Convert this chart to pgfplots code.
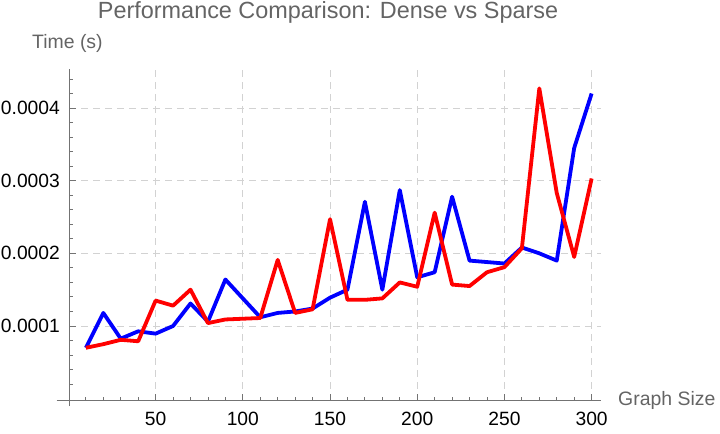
\documentclass[border=0pt]{standalone}
\usepackage{fontspec}
\setmainfont{Liberation Sans}
\usepackage{pgfplots}
\usepackage{pgfplotstable}
\pgfplotsset{compat=1.18}

\definecolor{axisgray}{RGB}{115,115,115}
\definecolor{labelgray}{RGB}{100,100,100}
\definecolor{gridgray}{RGB}{210,210,210}

% graph size, dense time, sparse time
\pgfplotstableread{
n    dense      sparse
10   0.0000700  0.0000700
20   0.0001180  0.0000750
30   0.0000826  0.0000810
40   0.0000927  0.0000790
50   0.0000895  0.0001350
60   0.0001000  0.0001280
70   0.0001310  0.0001500
80   0.0001060  0.0001040
90   0.0001640  0.0001090
100  0.0001380  0.0001100
110  0.0001120  0.0001110
120  0.0001180  0.0001910
130  0.0001200  0.0001180
140  0.0001240  0.0001230
150  0.0001390  0.0002470
160  0.0001500  0.0001360
170  0.0002710  0.0001360
180  0.0001500  0.0001380
190  0.0002870  0.0001600
200  0.0001670  0.0001540
210  0.0001740  0.0002560
220  0.0002780  0.0001570
230  0.0001900  0.0001550
240  0.0001880  0.0001740
250  0.0001860  0.0001810
260  0.0002080  0.0002070
270  0.0002000  0.0004270
280  0.0001900  0.0002830
290  0.0003450  0.0001950
300  0.0004200  0.0003030
}\timing

\begin{document}
\begin{tikzpicture}
\begin{axis}[
    at={(0,0)}, anchor=south west,
    scale only axis,
    width=531.4bp, height=331.4bp,
    xmin=0.5, xmax=305.2,
    ymin=-0.0000028, ymax=0.0004533,
    axis lines=left,
    axis line style={-, color=axisgray, line width=0.9bp},
    x axis line style={shorten <=-12.6bp},
    y axis line style={shorten <=-5.3bp},
    tick align=inside,
    tick style={color=axisgray, line width=0.9bp},
    major tick length=6.5bp,
    minor tick length=3.3bp,
    xtick={50,100,150,200,250,300},
    minor xtick={10,20,30,40,60,70,80,90,110,120,130,140,160,170,180,190,210,220,230,240,260,270,280,290},
    ytick={0.0001,0.0002,0.0003,0.0004},
    yticklabels={0.0001,0.0002,0.0003,0.0004},
    minor ytick={0.00002,0.00004,0.00006,0.00008,0.00012,0.00014,0.00016,0.00018,0.00022,0.00024,0.00026,0.00028,0.00032,0.00034,0.00036,0.00038,0.00042,0.00044},
    scaled y ticks=false,
    /pgf/number format/assume math mode=true,
    ticklabel style={font=\fontsize{19.3}{22}\selectfont, text=black},
    xticklabel style={anchor=base, inner sep=0pt, yshift=-24.3bp},
    yticklabel style={anchor=east, inner sep=0pt, xshift=-9.3bp},
    grid=major,
    major grid style={color=gridgray, line width=0.9bp, dash pattern=on 7bp off 5bp},
    title={Performance Comparison: Dense vs Sparse},
    title style={at={(axis description cs:0.487,1.1367)}, anchor=base, inner sep=0pt,
        font=\fontsize{23.5}{27}\selectfont, text=labelgray},
    xlabel={Graph Size},
    xlabel style={at={(axis description cs:1.0326,-0.0151)}, anchor=base west, inner sep=0pt,
        font=\fontsize{19.5}{22}\selectfont, text=labelgray},
    ylabel={Time (s)},
    ylabel style={at={(axis description cs:-0.0702,1.0628)}, anchor=base west, inner sep=0pt, rotate=-90,
        font=\fontsize{19.5}{22}\selectfont, text=labelgray},
    every axis plot/.append style={line width=3.8bp, line join=round, no markers},
]
\addplot[color=blue] table[x=n, y=dense] {\timing};
\addplot[color=red] table[x=n, y=sparse] {\timing};
\end{axis}
\pgfresetboundingbox
\path[use as bounding box] (-69.3bp,-33.3bp) rectangle (650.7bp,400.7bp);
\end{tikzpicture}
\end{document}
